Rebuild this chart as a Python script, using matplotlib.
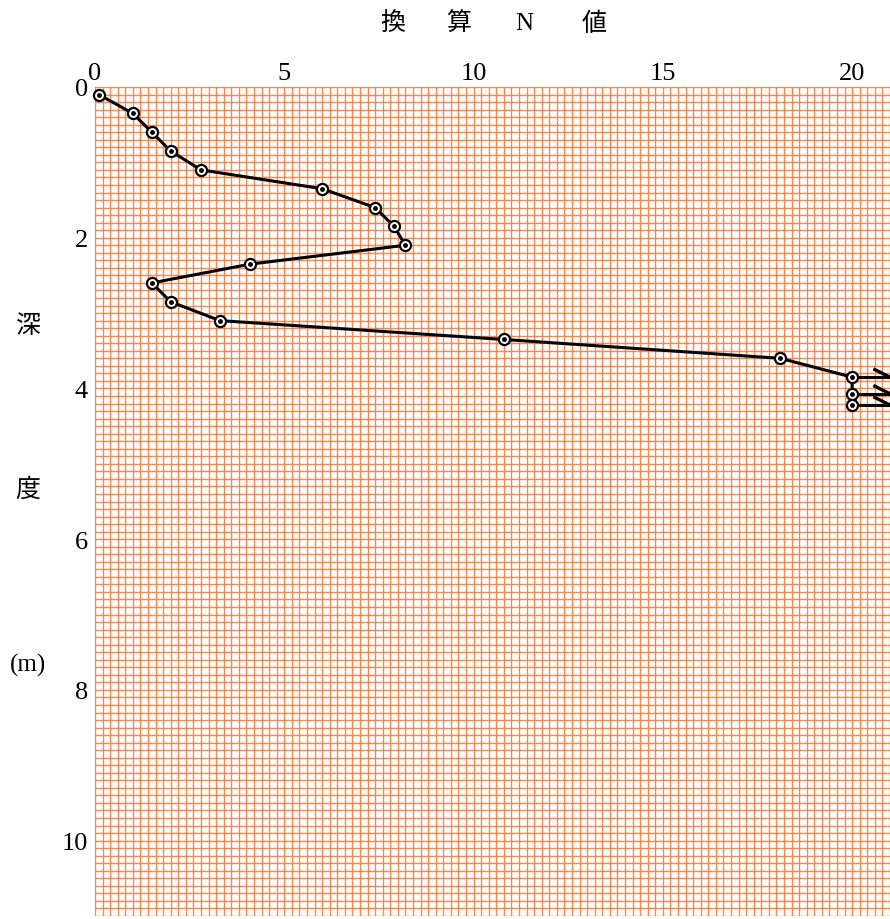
import numpy as np
import matplotlib
matplotlib.use('Agg')
import matplotlib.pyplot as plt

# Converted N values vs depth (m)
n_values = [0.1, 1.0, 1.5, 2.0, 2.8, 6.0, 7.4, 7.9, 8.2, 4.1, 1.5, 2.0, 3.3, 10.8, 18.1, 20.0, 20.0, 20.0]
depths = [0.1, 0.35, 0.6, 0.85, 1.1, 1.35, 1.6, 1.85, 2.1, 2.35, 2.6, 2.85, 3.1, 3.35, 3.6, 3.85, 4.07, 4.22]
# points where N exceeded the chart (drawn with arrows)
over_depths = [3.85, 4.07, 4.22]
over_n = 20.0

x_ticks = [0, 5, 10, 15, 20]
y_ticks = [0, 2, 4, 6, 8, 10]
x_max = 21
y_max = 11

title_chars = ['換', '算', 'N', '値']
ylabel_chars = ['深', '度', '(m)']

plt.rcParams['font.family'] = ['Liberation Serif', 'Noto Sans CJK JP', 'DejaVu Sans']

fig = plt.figure(figsize=(8.9, 9.2), dpi=100)
ax = fig.add_axes([95 / 890, 3 / 920, 795 / 890, 829 / 920])

# graph paper grid
grid_color = '#ff7a3d'
for gx in np.arange(0, x_max + 0.001, 0.2):
    ax.axvline(gx, color=grid_color, lw=1.0, alpha=0.9, zorder=1)
for gy in np.arange(0, y_max + 0.001, 0.1):
    ax.axhline(gy, color=grid_color, lw=1.0, alpha=0.9, zorder=1)

# main profile line
ax.plot(n_values, depths, color='black', lw=2.2, zorder=3, clip_on=False)
ax.plot(n_values, depths, linestyle='none', marker='o', markersize=8,
        markerfacecolor='white', markeredgecolor='black', markeredgewidth=1.6,
        zorder=4, clip_on=False)
ax.plot(n_values, depths, linestyle='none', marker='o', markersize=2.5,
        color='black', zorder=5, clip_on=False)

# arrows for N over the scale
for d in over_depths:
    ax.plot([over_n, x_max], [d, d], color='black', lw=2.2, zorder=3, clip_on=False)
    ax.plot([over_n + 0.6, x_max], [d - 0.1, d], color='black', lw=2.4, zorder=3, clip_on=False)

ax.set_xlim(0, x_max)
ax.set_ylim(y_max, 0)
ax.xaxis.tick_top()
ax.set_xticks(x_ticks)
ax.set_yticks(y_ticks)
ax.tick_params(axis='both', length=0, labelsize=19)
ax.tick_params(axis='x', pad=2)
ax.tick_params(axis='y', pad=5)
for s in ax.spines.values():
    s.set_visible(False)

# title letters spread out
for ch, fx in zip(title_chars, [0.374, 0.457, 0.540, 0.628]):
    ax.text(fx, 1.0 + 64 / 829, ch, transform=ax.transAxes, ha='center', va='center',
            fontsize=18)

# vertical y label
for ch, py in zip(ylabel_chars, [327, 490, 665]):
    fig.text(28 / 890, 1 - py / 920, ch, ha='center', va='center', fontsize=18)

fig.savefig('out.png', dpi=100)
